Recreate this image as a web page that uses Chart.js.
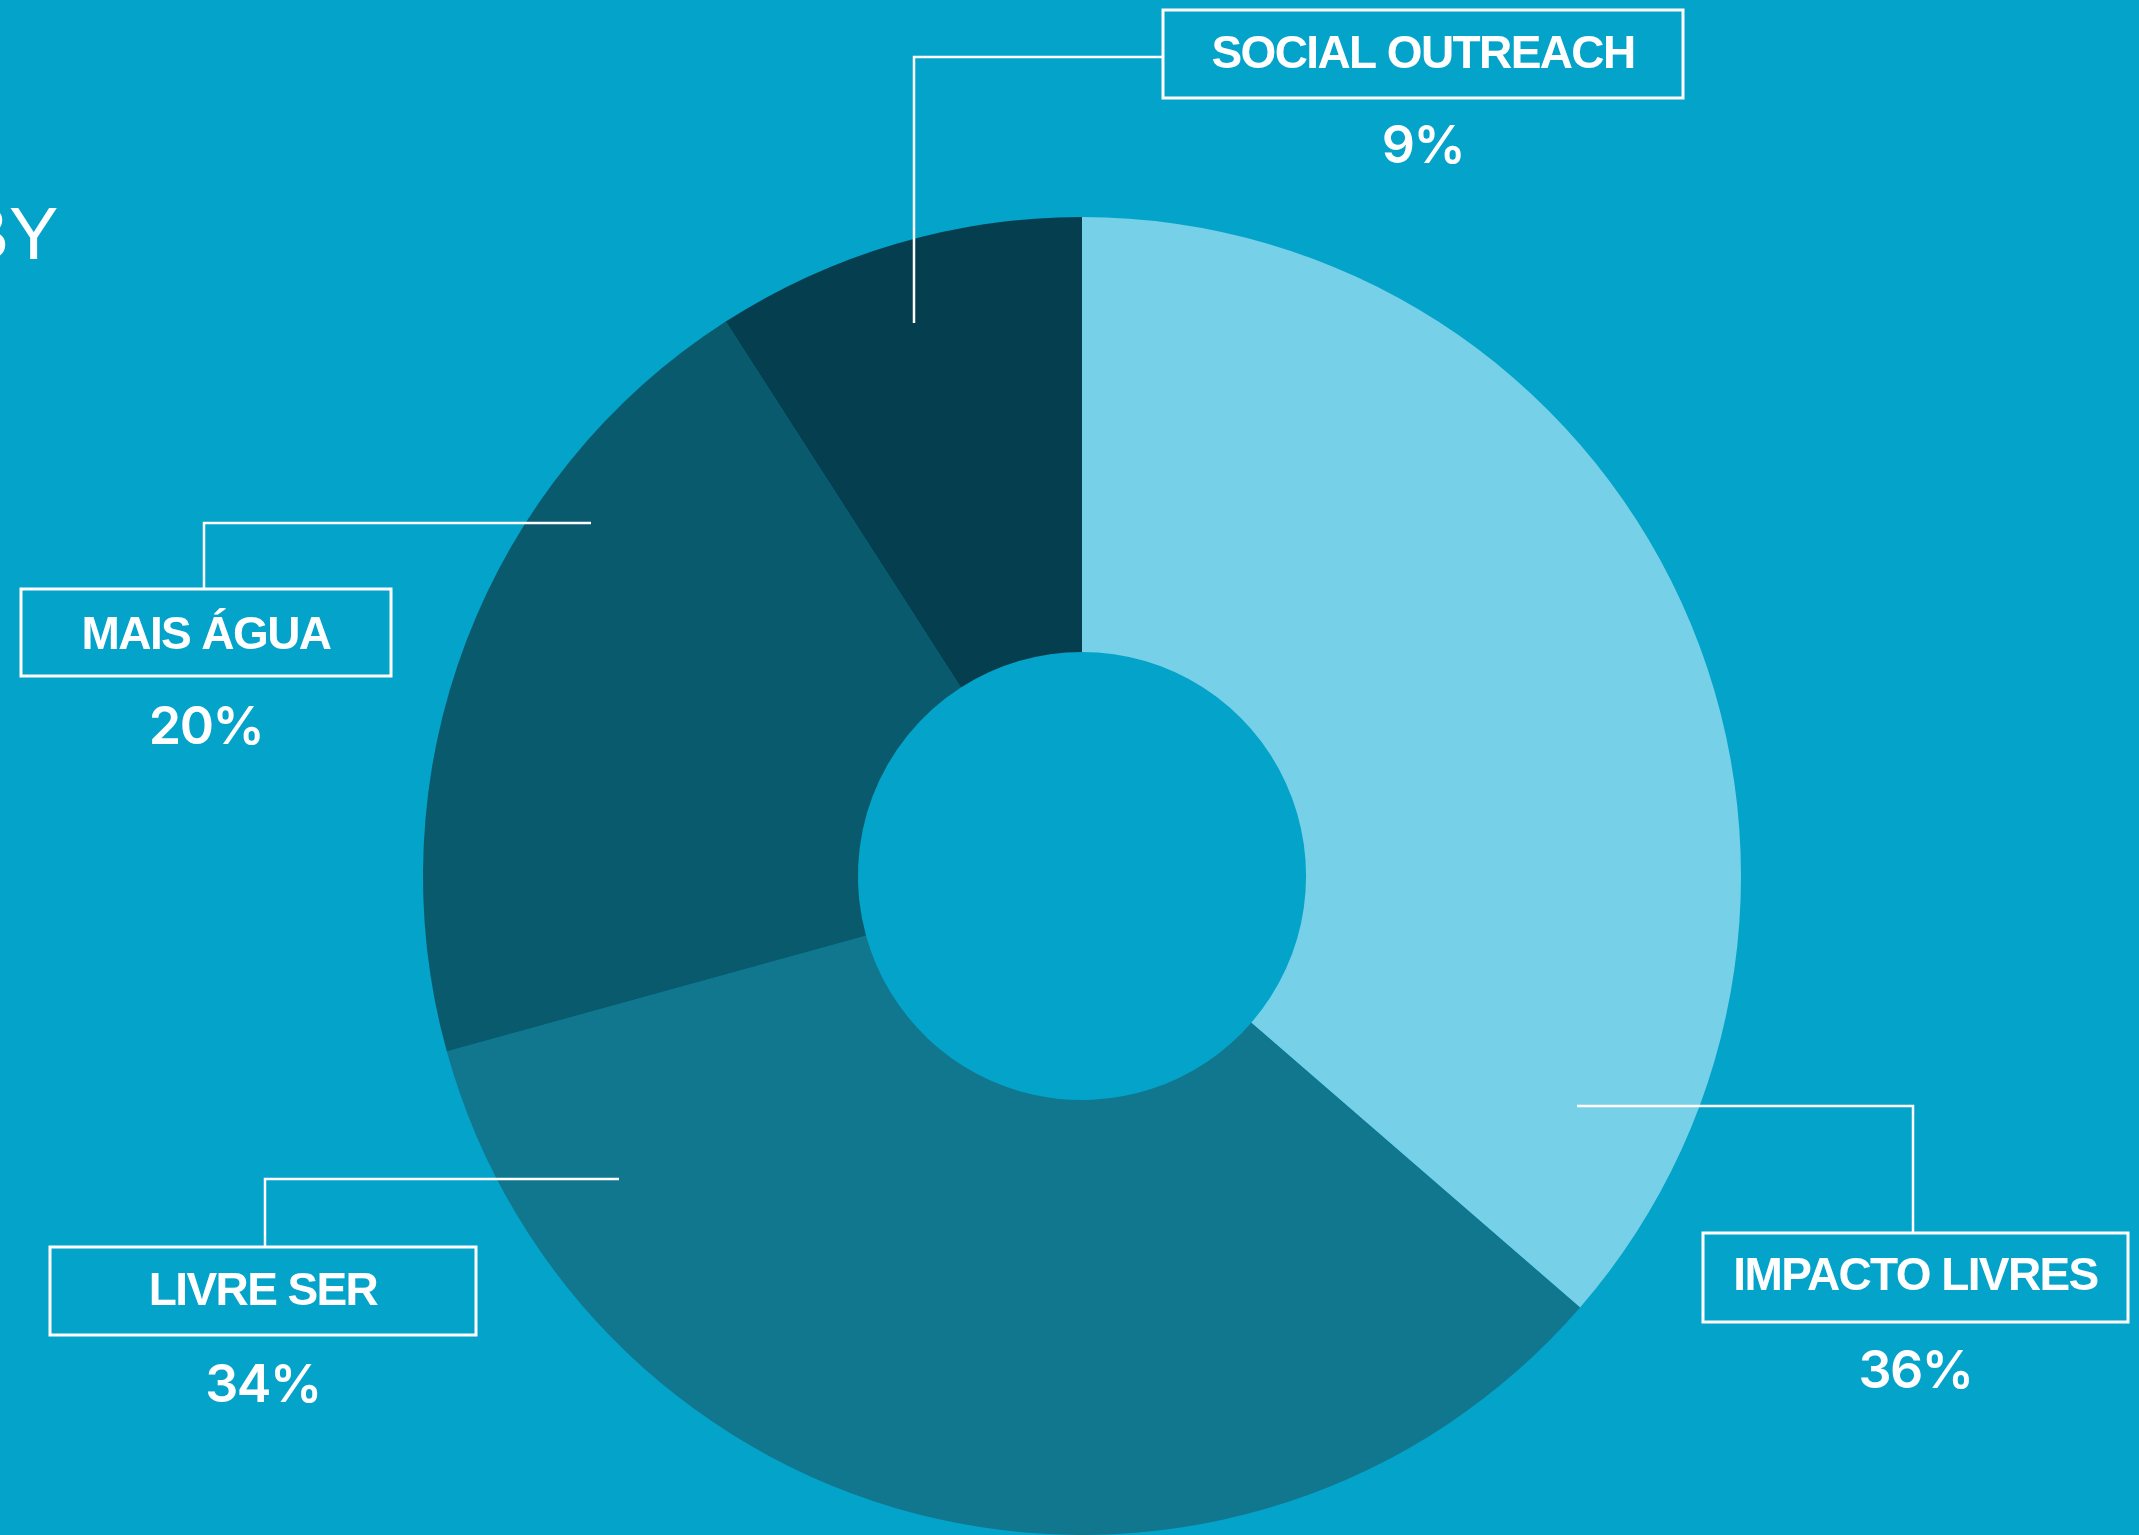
<!DOCTYPE html>
<html>
<head>
<meta charset="utf-8">
<script src="https://cdn.jsdelivr.net/npm/chart.js@4"></script>
<style>
  html, body { margin: 0; padding: 0; background: #04a3ca; overflow: hidden; }
  canvas { display: block; }
</style>
</head>
<body>
<canvas id="donut" width="2139" height="1535"></canvas>
<script>
// data
const categories = ["IMPACTO LIVRES", "LIVRE SER", "MAIS ÁGUA", "SOCIAL OUTREACH"];
const shares = [36, 34, 20, 9];
const sliceColors = ["#76d0e8", "#10778f", "#0a5a6e", "#053f4f"];

// callout boxes + leader lines (pixel layout, same order as categories)
// textY / pctY are baselines
const callouts = [
  { box: [1703, 1233, 2128, 1322], textY: 1290, pctY: 1388, line: [[1913, 1233], [1913, 1106], [1577, 1106]] },
  { box: [50, 1247, 476, 1335], textY: 1305, pctY: 1402, line: [[265, 1247], [265, 1179], [619, 1179]] },
  { box: [21, 589, 391, 676], textY: 649, pctY: 744, line: [[204, 589], [204, 523], [591, 523]] },
  { box: [1163, 10, 1683, 98], textY: 68, pctY: 163, line: [[1163, 57], [914, 57], [914, 323]] },
];

const calloutPlugin = {
  id: "callouts",
  afterDraw(chart) {
    const ctx = chart.ctx;
    ctx.save();
    ctx.fillStyle = "#ffffff";
    ctx.strokeStyle = "#ffffff";
    ctx.textBaseline = "alphabetic";

    // cut-off heading fragment on the left (only the tail of the "B" shows)
    ctx.font = "74px 'Liberation Sans', Arial, sans-serif";
    ctx.textAlign = "left";
    ctx.fillText("BY", 9 - ctx.measureText("B").width, 259);

    callouts.forEach((c, i) => {
      ctx.lineWidth = 2.5;
      ctx.beginPath();
      c.line.forEach(([x, y], k) => (k ? ctx.lineTo(x, y) : ctx.moveTo(x, y)));
      ctx.stroke();

      const [x0, y0, x1, y1] = c.box;
      ctx.lineWidth = 3;
      ctx.strokeRect(x0, y0, x1 - x0, y1 - y0);

      const cx = (x0 + x1) / 2;
      ctx.textAlign = "center";
      ctx.font = "bold 46px 'Liberation Sans', Arial, sans-serif";
      ctx.letterSpacing = "-1.6px";
      ctx.fillText(categories[i], cx, c.textY);

      ctx.font = "600 52px Inter, 'Liberation Sans', sans-serif";
      ctx.letterSpacing = "-1.5px";
      ctx.fillText(shares[i] + "%", cx, c.pctY);
    });
    ctx.restore();
  },
};

new Chart(document.getElementById("donut"), {
  type: "doughnut",
  data: {
    labels: categories,
    datasets: [{
      data: shares,
      backgroundColor: sliceColors,
      borderWidth: 0,
    }],
  },
  options: {
    responsive: false,
    devicePixelRatio: 1,
    animation: false,
    cutout: "34%",
    layout: { padding: { left: 423, right: 398, top: 217, bottom: 0 } },
    plugins: {
      legend: { display: false },
      tooltip: { enabled: false },
    },
  },
  plugins: [calloutPlugin],
});
</script>
</body>
</html>
